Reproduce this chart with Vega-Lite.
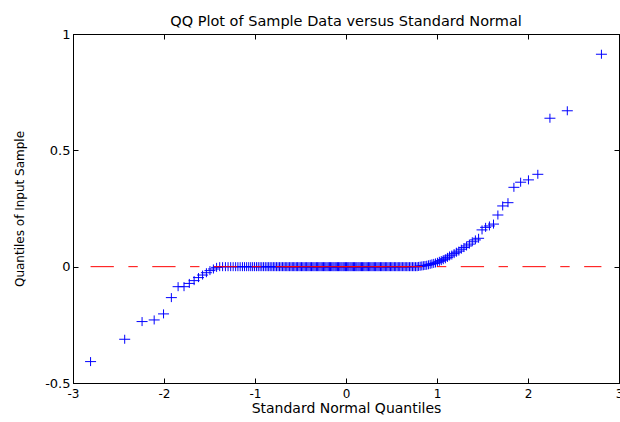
{
  "$schema": "https://vega.github.io/schema/vega-lite/v6.json",
  "width": 546,
  "height": 349,
  "autosize": {"type": "none"},
  "padding": {"left": 73, "top": 34, "right": 1, "bottom": 39},
  "background": "#ffffff",
  "title": {"text": "QQ Plot of Sample Data versus Standard Normal", "font": "DejaVu Sans", "fontSize": 14.5, "fontWeight": "normal", "color": "#000000", "anchor": "middle", "frame": "group", "baseline": "alphabetic", "offset": -12},
  "config": {
    "view": {"stroke": "#000000", "strokeWidth": 1},
    "axis": {"grid": false, "domainColor": "#000000", "domainWidth": 1, "tickColor": "#000000", "tickWidth": 1, "tickSize": -5, "labelColor": "#000000", "titleColor": "#000000", "labelFont": "DejaVu Sans", "labelFontSize": 13, "titleFont": "DejaVu Sans", "titleFontWeight": "normal", "labelFlush": false, "labelOverlap": false}
  },
  "datasets": {
    "ref": [{"q": -2.807, "s": 0}, {"q": 2.807, "s": 0}],
    "iqr": [{"q": -0.674, "s": 0}, {"q": 0.674, "s": 0}],
    "pts": [
      {"q": -2.807, "s": -0.408}, {"q": -2.432, "s": -0.312}, {"q": -2.241, "s": -0.236}, {"q": -2.108, "s": -0.229}, {"q": -2.005, "s": -0.203},
      {"q": -1.919, "s": -0.133}, {"q": -1.845, "s": -0.086}, {"q": -1.780, "s": -0.086}, {"q": -1.722, "s": -0.072}, {"q": -1.669, "s": -0.060},
      {"q": -1.621, "s": -0.047}, {"q": -1.576, "s": -0.036}, {"q": -1.534, "s": -0.026}, {"q": -1.495, "s": -0.017}, {"q": -1.457, "s": -0.010},
      {"q": -1.422, "s": -0.003}, {"q": -1.388, "s": 0}, {"q": -1.356, "s": 0}, {"q": -1.325, "s": 0}, {"q": -1.296, "s": 0},
      {"q": -1.267, "s": 0}, {"q": -1.240, "s": 0}, {"q": -1.213, "s": 0}, {"q": -1.188, "s": 0}, {"q": -1.163, "s": 0},
      {"q": -1.138, "s": 0}, {"q": -1.115, "s": 0}, {"q": -1.092, "s": 0}, {"q": -1.069, "s": 0}, {"q": -1.047, "s": 0},
      {"q": -1.026, "s": 0}, {"q": -1.005, "s": 0}, {"q": -0.984, "s": 0}, {"q": -0.964, "s": 0}, {"q": -0.944, "s": 0},
      {"q": -0.925, "s": 0}, {"q": -0.906, "s": 0}, {"q": -0.887, "s": 0}, {"q": -0.868, "s": 0}, {"q": -0.850, "s": 0},
      {"q": -0.833, "s": 0}, {"q": -0.815, "s": 0}, {"q": -0.798, "s": 0}, {"q": -0.781, "s": 0}, {"q": -0.764, "s": 0},
      {"q": -0.747, "s": 0}, {"q": -0.731, "s": 0}, {"q": -0.714, "s": 0}, {"q": -0.698, "s": 0}, {"q": -0.682, "s": 0},
      {"q": -0.667, "s": 0}, {"q": -0.651, "s": 0}, {"q": -0.636, "s": 0}, {"q": -0.620, "s": 0}, {"q": -0.605, "s": 0},
      {"q": -0.590, "s": 0}, {"q": -0.575, "s": 0}, {"q": -0.561, "s": 0}, {"q": -0.546, "s": 0}, {"q": -0.532, "s": 0},
      {"q": -0.517, "s": 0}, {"q": -0.503, "s": 0}, {"q": -0.489, "s": 0}, {"q": -0.475, "s": 0}, {"q": -0.461, "s": 0},
      {"q": -0.447, "s": 0}, {"q": -0.433, "s": 0}, {"q": -0.419, "s": 0}, {"q": -0.406, "s": 0}, {"q": -0.392, "s": 0},
      {"q": -0.379, "s": 0}, {"q": -0.365, "s": 0}, {"q": -0.352, "s": 0}, {"q": -0.339, "s": 0}, {"q": -0.325, "s": 0},
      {"q": -0.312, "s": 0}, {"q": -0.299, "s": 0}, {"q": -0.286, "s": 0}, {"q": -0.273, "s": 0}, {"q": -0.260, "s": 0},
      {"q": -0.247, "s": 0}, {"q": -0.234, "s": 0}, {"q": -0.221, "s": 0}, {"q": -0.208, "s": 0}, {"q": -0.195, "s": 0},
      {"q": -0.182, "s": 0}, {"q": -0.170, "s": 0}, {"q": -0.157, "s": 0}, {"q": -0.144, "s": 0}, {"q": -0.132, "s": 0},
      {"q": -0.119, "s": 0}, {"q": -0.107, "s": 0}, {"q": -0.094, "s": 0}, {"q": -0.082, "s": 0}, {"q": -0.069, "s": 0},
      {"q": -0.056, "s": 0}, {"q": -0.044, "s": 0}, {"q": -0.031, "s": 0}, {"q": -0.019, "s": 0}, {"q": -0.006, "s": 0},
      {"q": 0.006, "s": 0}, {"q": 0.019, "s": 0}, {"q": 0.031, "s": 0}, {"q": 0.044, "s": 0}, {"q": 0.056, "s": 0},
      {"q": 0.069, "s": 0}, {"q": 0.082, "s": 0}, {"q": 0.094, "s": 0}, {"q": 0.107, "s": 0}, {"q": 0.119, "s": 0},
      {"q": 0.132, "s": 0}, {"q": 0.144, "s": 0}, {"q": 0.157, "s": 0}, {"q": 0.170, "s": 0}, {"q": 0.182, "s": 0},
      {"q": 0.195, "s": 0}, {"q": 0.208, "s": 0}, {"q": 0.221, "s": 0}, {"q": 0.234, "s": 0}, {"q": 0.247, "s": 0},
      {"q": 0.260, "s": 0}, {"q": 0.273, "s": 0}, {"q": 0.286, "s": 0}, {"q": 0.299, "s": 0}, {"q": 0.312, "s": 0},
      {"q": 0.325, "s": 0}, {"q": 0.339, "s": 0}, {"q": 0.352, "s": 0}, {"q": 0.365, "s": 0}, {"q": 0.379, "s": 0},
      {"q": 0.392, "s": 0}, {"q": 0.406, "s": 0}, {"q": 0.419, "s": 0}, {"q": 0.433, "s": 0}, {"q": 0.447, "s": 0},
      {"q": 0.461, "s": 0}, {"q": 0.475, "s": 0}, {"q": 0.489, "s": 0}, {"q": 0.503, "s": 0}, {"q": 0.517, "s": 0},
      {"q": 0.532, "s": 0}, {"q": 0.546, "s": 0}, {"q": 0.561, "s": 0}, {"q": 0.575, "s": 0}, {"q": 0.590, "s": 0},
      {"q": 0.605, "s": 0}, {"q": 0.620, "s": 0}, {"q": 0.636, "s": 0}, {"q": 0.651, "s": 0}, {"q": 0.667, "s": 0},
      {"q": 0.682, "s": 0}, {"q": 0.698, "s": 0}, {"q": 0.714, "s": 0}, {"q": 0.731, "s": 0}, {"q": 0.747, "s": 0},
      {"q": 0.764, "s": 0}, {"q": 0.781, "s": 0}, {"q": 0.798, "s": 0.001}, {"q": 0.815, "s": 0.002}, {"q": 0.833, "s": 0.003},
      {"q": 0.850, "s": 0.004}, {"q": 0.868, "s": 0.005}, {"q": 0.887, "s": 0.006}, {"q": 0.906, "s": 0.008}, {"q": 0.925, "s": 0.010},
      {"q": 0.944, "s": 0.012}, {"q": 0.964, "s": 0.014}, {"q": 0.984, "s": 0.016}, {"q": 1.005, "s": 0.019}, {"q": 1.026, "s": 0.023},
      {"q": 1.047, "s": 0.026}, {"q": 1.069, "s": 0.030}, {"q": 1.092, "s": 0.034}, {"q": 1.115, "s": 0.040}, {"q": 1.138, "s": 0.046},
      {"q": 1.163, "s": 0.050}, {"q": 1.188, "s": 0.056}, {"q": 1.213, "s": 0.062}, {"q": 1.240, "s": 0.067}, {"q": 1.267, "s": 0.075},
      {"q": 1.296, "s": 0.082}, {"q": 1.325, "s": 0.089}, {"q": 1.356, "s": 0.097}, {"q": 1.388, "s": 0.107}, {"q": 1.422, "s": 0.115},
      {"q": 1.457, "s": 0.122}, {"q": 1.495, "s": 0.158}, {"q": 1.534, "s": 0.169}, {"q": 1.576, "s": 0.175}, {"q": 1.621, "s": 0.183},
      {"q": 1.669, "s": 0.222}, {"q": 1.722, "s": 0.261}, {"q": 1.780, "s": 0.275}, {"q": 1.845, "s": 0.341}, {"q": 1.919, "s": 0.363},
      {"q": 2.005, "s": 0.373}, {"q": 2.108, "s": 0.397}, {"q": 2.241, "s": 0.638}, {"q": 2.432, "s": 0.670}, {"q": 2.807, "s": 0.913}
    ]
  },
  "layer": [
    {
      "data": {"name": "pts"},
      "mark": {"type": "point", "shape": "M-1,0H1M0,-0.82V0.82", "filled": false, "stroke": "#0000ff", "strokeWidth": 1, "size": 121, "opacity": 1},
      "encoding": {
        "x": {"field": "q", "type": "quantitative", "scale": {"domain": [-3, 3], "nice": false, "zero": false},
              "axis": {"orient": "bottom", "values": [-3, -2, -1, 0, 1, 2, 3], "labelExpr": "datum.value + ''", "labelFontSize": 12, "labelBaseline": "alphabetic", "labelPadding": 19, "title": "Standard Normal Quantiles", "titleFontSize": 14, "titleBaseline": "alphabetic", "titleY": 29.5}},
        "y": {"field": "s", "type": "quantitative", "scale": {"domain": [-0.5, 1], "nice": false, "zero": false},
              "axis": {"orient": "left", "values": [-0.5, 0, 0.5, 1], "labelExpr": "datum.value + ''", "labelPadding": 8, "title": "Quantiles of Input Sample", "titleFontSize": 12, "titleAngle": -90, "titleBaseline": "middle", "titleAlign": "center", "titleX": -54, "titleY": 174.5}}
      }
    },
    {
      "data": {"name": "ref"},
      "mark": {"type": "line", "stroke": "#ff0000", "strokeWidth": 1, "strokeDash": [23.3, 14.5, 9.4, 14.5]},
      "encoding": {
        "x": {"field": "q", "type": "quantitative", "scale": {"domain": [-3, 3], "nice": false, "zero": false}, "axis": null},
        "y": {"field": "s", "type": "quantitative", "scale": {"domain": [-0.5, 1], "nice": false, "zero": false}, "axis": null}
      }
    },
    {
      "data": {"name": "iqr"},
      "mark": {"type": "line", "stroke": "#ff0000", "strokeWidth": 1},
      "encoding": {
        "x": {"field": "q", "type": "quantitative", "scale": {"domain": [-3, 3], "nice": false, "zero": false},
              "axis": {"orient": "top", "values": [-3, -2, -1, 0, 1, 2, 3], "labels": false, "title": null}},
        "y": {"field": "s", "type": "quantitative", "scale": {"domain": [-0.5, 1], "nice": false, "zero": false},
              "axis": {"orient": "right", "values": [-0.5, 0, 0.5, 1], "labels": false, "title": null}}
      }
    }
  ],
  "resolve": {"axis": {"x": "independent", "y": "independent"}}
}
